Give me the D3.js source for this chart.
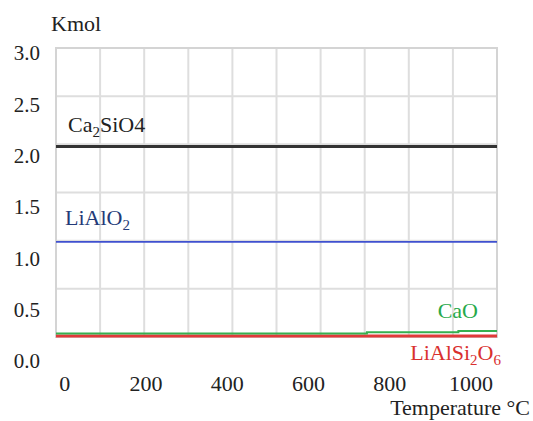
<!DOCTYPE html>
<html>
<head>
<meta charset="utf-8">
<script src="https://cdn.jsdelivr.net/npm/d3@7"></script>
<style>
  body { margin: 0; background: #fff; }
  svg text { font-family: "Liberation Serif", "Times New Roman", serif; }
</style>
</head>
<body>
<svg id="chart" width="533" height="421"></svg>
<script>
// data (temperature in °C, amount in Kmol)
const xTicks = [0, 200, 400, 600, 800, 1000];
const yTicks = [0.0, 0.5, 1.0, 1.5, 2.0, 2.5, 3.0];
const tempRange = [-20, 1065];

const ca2sio4 = [[-20, 2.09], [1065, 2.09]];
const lialo2 = [[-20, 1.16], [1065, 1.16]];
const cao = [[-20, 0.268], [745, 0.28], [970, 0.292], [1065, 0.292]];
const lialsi2o6 = [[-20, 0.243], [1065, 0.243]];

const frame = { left: 56, right: 497, top: 48, bottom: 337 };

const svg = d3.select("#chart");

const x = d3.scaleLinear().domain(tempRange).range([frame.left, frame.right]);
const y = d3.scaleLinear().domain([0, 3]).range([361, 53]);

// grid (10 columns, 6 rows across the frame)
const grid = svg.append("g");
d3.range(1, 10).forEach(i => {
  const gx = frame.left + i * (frame.right - frame.left) / 10;
  grid.append("line")
    .attr("x1", gx).attr("x2", gx)
    .attr("y1", frame.top).attr("y2", frame.bottom)
    .attr("stroke", "#dedede").attr("stroke-width", 2);
});
d3.range(1, 6).forEach(i => {
  const gy = frame.top + i * (frame.bottom - frame.top) / 6;
  grid.append("line")
    .attr("x1", frame.left).attr("x2", frame.right)
    .attr("y1", gy).attr("y2", gy)
    .attr("stroke", "#dedede").attr("stroke-width", 2);
});
grid.append("rect")
  .attr("x", frame.left).attr("y", frame.top)
  .attr("width", frame.right - frame.left)
  .attr("height", frame.bottom - frame.top)
  .attr("fill", "none").attr("stroke", "#d4d4d4").attr("stroke-width", 2);

// axes labels only, no lines
const yAxis = svg.append("g")
  .attr("transform", "translate(40,0)")
  .call(d3.axisLeft(y).tickValues(yTicks).tickFormat(d3.format(".1f")).tickSize(0).tickPadding(0));
yAxis.select(".domain").remove();

const xAxis = svg.append("g")
  .attr("transform", "translate(0,391)")
  .call(d3.axisBottom(x).tickValues(xTicks).tickFormat(d3.format("d")).tickSize(0).tickPadding(0));
xAxis.select(".domain").remove();
xAxis.selectAll("text").attr("y", 0).attr("dy", 0);

svg.selectAll(".tick line").remove();
yAxis.attr("font-family", null).attr("font-size", 21).attr("fill", "#222");
xAxis.attr("font-family", null).attr("font-size", 22).attr("fill", "#222");
svg.selectAll(".tick text").attr("fill", "#222");

svg.append("text")
  .attr("x", 51).attr("y", 31)
  .attr("font-size", 22).attr("fill", "#222")
  .text("Kmol");

svg.append("text")
  .attr("x", 530).attr("y", 415)
  .attr("text-anchor", "end")
  .attr("font-size", 22).attr("fill", "#222")
  .text("Temperature °C");

// series lines
const line = d3.line().x(d => x(d[0])).y(d => y(d[1]));
const stepLine = d3.line().x(d => x(d[0])).y(d => y(d[1])).curve(d3.curveStepAfter);

svg.append("path").datum(lialsi2o6)
  .attr("d", line).attr("fill", "none")
  .attr("stroke", "#e03a3a").attr("stroke-width", 3);
svg.append("path").datum(cao)
  .attr("d", stepLine).attr("fill", "none")
  .attr("stroke", "#35b04f").attr("stroke-width", 2);
svg.append("path").datum(lialo2)
  .attr("d", line).attr("fill", "none")
  .attr("stroke", "#3f50cf").attr("stroke-width", 1.6);
svg.append("path").datum(ca2sio4)
  .attr("d", line).attr("fill", "none")
  .attr("stroke", "#333").attr("stroke-width", 3);

// series labels; parts in [text, isSubscript] pairs
function label(parts, xPos, yPos, color, anchor) {
  const t = svg.append("text")
    .attr("x", xPos).attr("y", yPos)
    .attr("text-anchor", anchor || "start")
    .attr("font-size", 22).attr("fill", color);
  let shift = 0;
  parts.forEach(([str, isSub]) => {
    const target = isSub ? 5 : 0;
    const ts = t.append("tspan").attr("dy", target - shift).text(str);
    if (isSub) ts.attr("font-size", 15);
    shift = target;
  });
}

label([["Ca"], ["2", true], ["SiO4"]], 68, 132, "#222");
label([["LiAlO"], ["2", true]], 65, 225, "#233a78");
label([["CaO"]], 478, 318, "#27a94a", "end");
label([["LiAlSi"], ["2", true], ["O"], ["6", true]], 501, 360, "#d9302e", "end");
</script>
</body>
</html>
